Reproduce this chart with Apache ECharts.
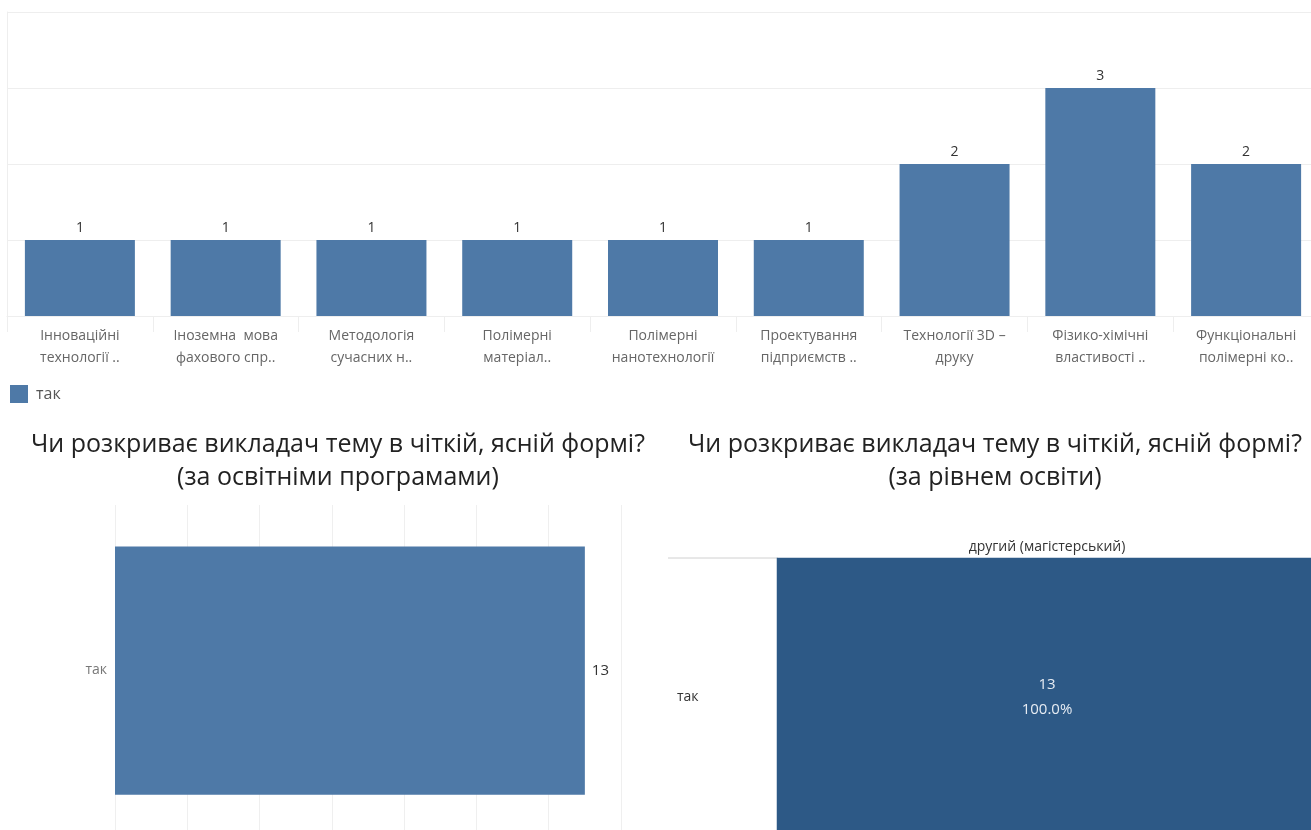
<!DOCTYPE html>
<html>
<head>
<meta charset="utf-8">
<script src="https://cdn.jsdelivr.net/npm/echarts@6/dist/echarts.min.js"></script>
<style>
html,body{margin:0;padding:0;background:#fff;overflow:hidden;}
#chart{width:1330px;height:860px;}
</style>
</head>
<body>
<div id="chart"></div>
<script>
const courseCategories = [
  'Інноваційні\nтехнології ..',
  'Іноземна  мова\nфахового спр..',
  'Методологія\nсучасних н..',
  'Полімерні\nматеріал..',
  'Полімерні\nнанотехнології',
  'Проектування\nпідприємств ..',
  'Технології 3D –\nдруку',
  'Фізико-хімічні\nвластивості ..',
  'Функціональні\nполімерні ко..'
];
const courseValues = [1, 1, 1, 1, 1, 1, 2, 3, 2];
const seriesName = 'так';
const programCategories = ['так'];
const programValues = [13];
const levelCategories = ['другий (магістерський)'];
const levelAnswers = ['так'];
const levelValues = [13];
const title1 = 'Чи розкриває викладач тему в чіткій, ясній формі?\n(за освітніми програмами)';
const title2 = 'Чи розкриває викладач тему в чіткій, ясній формі?\n(за рівнем освіти)';

const BAR = '#4e79a7';
const DARK = '#2d5986';
const FONT = '"Open Sans", "Noto Sans", sans-serif';
const levelTotal = levelValues.reduce((a, b) => a + b, 0);

const chart = echarts.init(document.getElementById('chart'));
chart.setOption({
  animation: false,
  textStyle: { fontFamily: FONT },
  title: [
    { text: title1, left: 333, top: 423, textAlign: 'center',
      textStyle: { fontSize: 25, lineHeight: 33, fontWeight: 'normal', color: '#222', fontFamily: FONT } },
    { text: title2, left: 990, top: 423, textAlign: 'center',
      textStyle: { fontSize: 25, lineHeight: 33, fontWeight: 'normal', color: '#222', fontFamily: FONT } }
  ],
  legend: {
    data: [seriesName], left: 5, top: 380, icon: 'rect', itemWidth: 18, itemHeight: 18,
    itemGap: 8, textStyle: { color: '#555', fontSize: 16, padding: [0, 0, 0, 3] }
  },
  graphic: [
    { type: 'line', shape: { x1: 668, y1: 558, x2: 777, y2: 558 }, style: { stroke: '#d0d0d0', lineWidth: 1 } }
  ],
  grid: [
    { left: 7, top: 12, width: 1312, height: 304 },
    { left: 115, top: 505, width: 506, height: 331 },
    { left: 777, top: 558, width: 540, height: 278 }
  ],
  xAxis: [
    { gridIndex: 0, type: 'category', data: courseCategories,
      axisLine: { lineStyle: { color: '#eeeeee' } },
      axisTick: { show: true, interval: 0, length: 16, lineStyle: { color: '#eeeeee' } },
      axisLabel: { interval: 0, color: '#666', fontSize: 14, lineHeight: 22, margin: 9 } },
    { gridIndex: 1, type: 'value', min: 0, max: 14, interval: 2,
      axisLine: { show: false }, axisTick: { show: false }, axisLabel: { show: false },
      splitLine: { show: true, lineStyle: { color: '#efefef' } } },
    { gridIndex: 2, type: 'category', data: levelCategories, position: 'top',
      axisLine: { show: false }, axisTick: { show: false },
      axisLabel: { color: '#333', fontSize: 14, margin: 4 }, splitLine: { show: false } }
  ],
  yAxis: [
    { gridIndex: 0, type: 'value', min: 0, max: 4, interval: 1,
      axisLine: { show: true, lineStyle: { color: '#eeeeee' } }, axisTick: { show: false }, axisLabel: { show: false },
      splitLine: { lineStyle: { color: '#eeeeee' } } },
    { gridIndex: 1, type: 'category', data: programCategories,
      axisLine: { show: false }, axisTick: { show: false },
      axisLabel: { color: '#777', fontSize: 14, margin: 8 } },
    { gridIndex: 2, type: 'category', data: levelAnswers,
      axisLine: { show: true, lineStyle: { color: '#d0d0d0' } }, axisTick: { show: false },
      axisLabel: { color: '#333', fontSize: 14, margin: 100, align: 'left' } }
  ],
  series: [
    { name: seriesName, type: 'bar', xAxisIndex: 0, yAxisIndex: 0, data: courseValues,
      barWidth: 110, itemStyle: { color: BAR },
      label: { show: true, position: 'top', distance: 5, color: '#333', fontSize: 14 } },
    { name: 'programs', type: 'bar', xAxisIndex: 1, yAxisIndex: 1, data: programValues,
      barWidth: '75%', itemStyle: { color: BAR },
      label: { show: true, position: 'right', distance: 7, color: '#333', fontSize: 15 } },
    { name: 'level', type: 'heatmap', xAxisIndex: 2, yAxisIndex: 2,
      data: levelValues.map((v, i) => [0, i, v]),
      itemStyle: { color: DARK },
      label: { show: true, color: '#e6ecf3', fontSize: 15, lineHeight: 25,
        formatter: p => p.value[2] + '\n' + (p.value[2] / levelTotal * 100).toFixed(1) + '%' } }
  ]
});
</script>
</body>
</html>
